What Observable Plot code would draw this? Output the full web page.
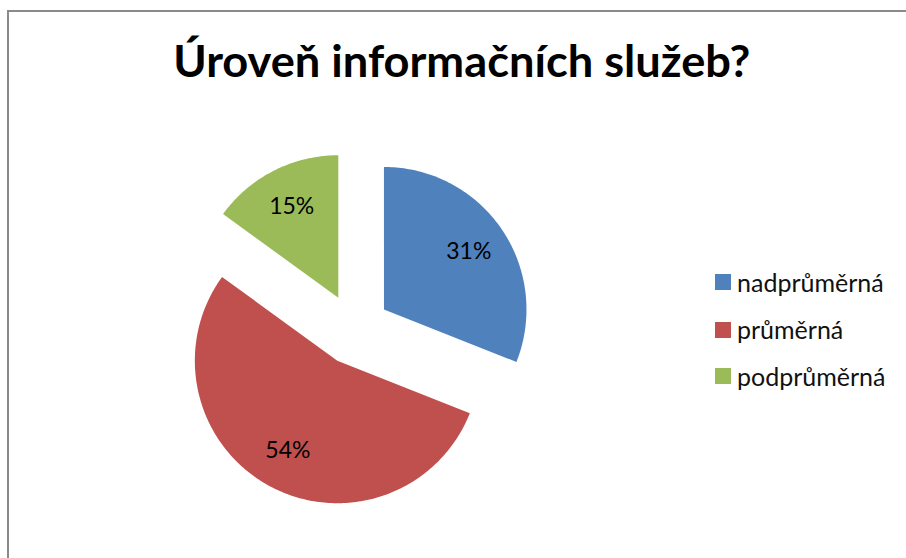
<!DOCTYPE html>
<html>
<head>
<meta charset="utf-8">
<script src="https://cdn.jsdelivr.net/npm/d3@7"></script>
<script src="https://cdn.jsdelivr.net/npm/@observablehq/plot@0.6"></script>
<style>
  html, body { margin: 0; padding: 0; background: #fff; }
  #chart { position: relative; width: 906px; height: 558px; overflow: hidden; background: #fff; font-family: Lato, "Open Sans", sans-serif; }
  #frame { position: absolute; left: 7px; top: 10px; width: 910px; height: 560px; border-left: 2px solid #8a8a8a; border-top: 2px solid #8a8a8a; box-sizing: border-box; }
  #title { position: absolute; left: 0; top: 38px; width: 923px; text-align: center; white-space: nowrap; }
  #title span { display: inline-block; font-weight: 700; font-size: 44px; line-height: 1; color: #000; transform-origin: center; }
  #plot { position: absolute; left: 0; top: 130px; }
  #legend { position: absolute; left: 715px; top: 0; }
  .item { position: absolute; left: 0; display: flex; align-items: center; white-space: nowrap; height: 30px; }
  .sw { width: 16px; height: 16px; margin-right: 6px; }
  .lab { font-size: 25px; color: #111; line-height: 1; }
</style>
</head>
<body>
<div id="chart">
  <div id="frame"></div>
  <div id="title"><span id="titletext"></span></div>
  <div id="plot"></div>
  <div id="legend"></div>
</div>
<script>
// ---- data ----
const titleText = "Úroveň informačních služeb?";
const categories = ["nadprůměrná", "průměrná", "podprůměrná"];
const values = [31, 54, 15];
const colors = ["#4F81BD", "#C0504D", "#9BBB59"];
const labels = ["31%", "54%", "15%"];

// ---- layout ----
const W = 600, H = 400;
const cx = 354, cy = 199, R = 142.5;   // pie centre and radius in svg pixels
const explode = 0.25;                   // exploded fraction of radius
const labelPos = 0.72;

// ---- build slice geometry from values ----
const total = d3.sum(values);
const points = [];
const labelRows = [];
let acc = 0;
categories.forEach((cat, i) => {
  const a0 = acc / total * 2 * Math.PI;
  acc += values[i];
  const a1 = acc / total * 2 * Math.PI;
  const mid = (a0 + a1) / 2;
  const ox = explode * Math.sin(mid), oy = explode * Math.cos(mid);
  points.push({key: cat, x: ox, y: oy});
  const n = Math.max(2, Math.ceil((a1 - a0) / (Math.PI / 180)));
  for (let k = 0; k <= n; ++k) {
    const a = a0 + (a1 - a0) * k / n;
    points.push({key: cat, x: ox + Math.sin(a), y: oy + Math.cos(a)});
  }
  labelRows.push({key: cat, text: labels[i], x: ox + labelPos * Math.sin(mid), y: oy + labelPos * Math.cos(mid)});
});

const plot = Plot.plot({
  width: W,
  height: H,
  margin: 0,
  style: {background: "transparent", overflow: "visible"},
  x: {domain: [-cx / R, (W - cx) / R], axis: null},
  y: {domain: [-(H - cy) / R, cy / R], axis: null},
  color: {domain: categories, range: colors},
  marks: [
    Plot.line(points, {x: "x", y: "y", z: "key", fill: "key", stroke: "none", curve: "linear-closed"}),
    Plot.text(labelRows, {x: "x", y: "y", text: "text", fill: "#000", fontSize: 23, fontFamily: "Lato, 'Open Sans', sans-serif"})
  ]
});
document.getElementById("plot").appendChild(plot);

// ---- title ----
const tt = document.getElementById("titletext");
tt.textContent = titleText;
const tw = tt.getBoundingClientRect().width;
tt.style.transform = `scaleX(${577 / tw})`;

// ---- legend ----
const legend = document.getElementById("legend");
const rowCenters = [282, 329.5, 376];
categories.forEach((cat, i) => {
  const item = document.createElement("div");
  item.className = "item";
  item.style.top = (rowCenters[i] - 15) + "px";
  const sw = document.createElement("div");
  sw.className = "sw";
  sw.style.background = colors[i];
  const lab = document.createElement("span");
  lab.className = "lab";
  lab.textContent = cat;
  item.appendChild(sw);
  item.appendChild(lab);
  legend.appendChild(item);
});
</script>
</body>
</html>
